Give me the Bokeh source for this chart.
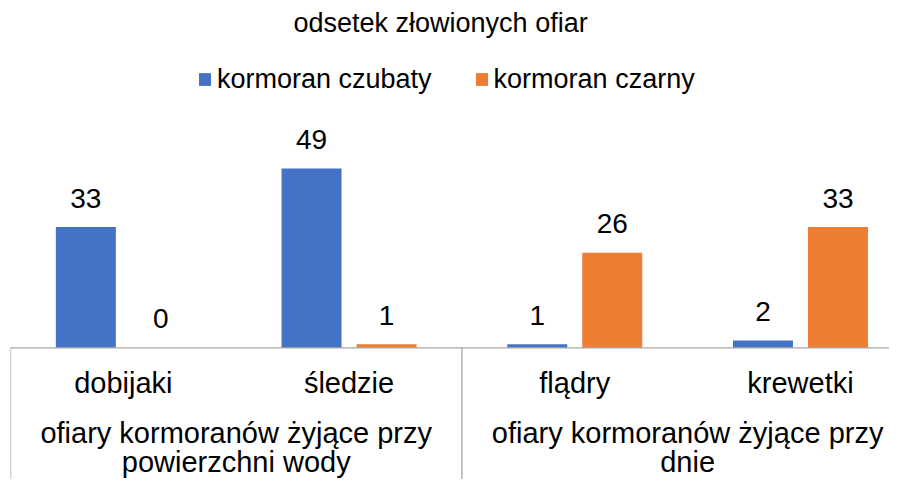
from bokeh.plotting import figure
from bokeh.models import Range1d, Legend, LegendItem, ColumnDataSource
from bokeh.core.properties import value
from bokeh.embed import file_html
from bokeh.resources import INLINE

# ---- data ----
categories = ["dobijaki", "śledzie", "flądry", "krewetki"]
groups = ["ofiary kormoranów żyjące przy\npowierzchni wody",
          "ofiary kormoranów żyjące przy\ndnie"]
group_sizes = [2, 2]
series_names = ["kormoran czubaty", "kormoran czarny"]
czubaty = [33, 49, 1, 2]
czarny = [0, 1, 26, 33]
title_text = "odsetek złowionych ofiar"

# ---- layout constants ----
FONT = "Liberation Sans"
BLUE = "#4472C4"
ORANGE = "#ED7D31"
AXIS = "#A6A6A6"
W, H = 889, 479
FRAME_LEFT = 10
TITLE_H = 41            # approx height of title panel
CAT_PX = 225.7          # pixels per category
PX_PER_UNIT = 3.667     # pixels per value unit
BASE_FROM_TOP = 347     # baseline distance from figure top
frame_w = W - FRAME_LEFT
frame_h = H - TITLE_H
base_in_frame = BASE_FROM_TOP - TITLE_H

x_end = frame_w / CAT_PX
y_end = base_in_frame / PX_PER_UNIT
y_start = -(frame_h - base_in_frame) / PX_PER_UNIT

bar_w = 60 / CAT_PX
dodge = 37.5 / CAT_PX

centers = [i + 0.5 for i in range(len(categories))]

p = figure(width=W, height=H, output_backend="svg", toolbar_location=None,
           x_range=Range1d(0, x_end), y_range=Range1d(y_start, y_end),
           x_axis_type=None, y_axis_type=None,
           min_border_left=FRAME_LEFT, min_border_right=0,
           min_border_top=0, min_border_bottom=0,
           outline_line_color=None, background_fill_color="white",
           border_fill_color="white")
p.xgrid.visible = False
p.ygrid.visible = False

p.title.text = title_text
p.title.align = "left"
p.title.offset = 283
p.title.text_font = FONT
p.title.text_font_size = "27px"
p.title.text_font_style = "normal"
p.title.text_color = "#000000"
p.title.standoff = 10

src = ColumnDataSource(dict(
    xb=[c - dodge for c in centers], xo=[c + dodge for c in centers],
    cz=czubaty, cr=czarny,
    czl=[str(v) for v in czubaty], crl=[str(v) for v in czarny]))

r1 = p.vbar(x="xb", top="cz", bottom=0, width=bar_w, source=src,
            fill_color=BLUE, line_color=None)
r2 = p.vbar(x="xo", top="cr", bottom=0, width=bar_w, source=src,
            fill_color=ORANGE, line_color=None)

for xcol, ycol, lcol in (("xb", "cz", "czl"), ("xo", "cr", "crl")):
    p.text(x=xcol, y=ycol, text=lcol, source=src, y_offset=-29,
           text_align="center", text_baseline="alphabetic",
           text_font=value(FONT), text_font_size="28px", text_color="#000000")

# axis line and group separators
n = len(categories)
p.segment(x0=[0], y0=[0], x1=[n], y1=[0], line_color=AXIS, line_width=1.3)
bounds = [0]
for s in group_sizes:
    bounds.append(bounds[-1] + s)
p.segment(x0=bounds, y0=[0] * len(bounds), x1=bounds, y1=[y_start] * len(bounds),
          line_color=AXIS, line_width=1.3)

# category labels
p.text(x=centers, y=[0] * n, text=categories, y_offset=35,
       text_align="center", text_baseline="alphabetic",
       text_font=value(FONT), text_font_size="29px", text_color="#000000")

# group labels (two lines)
gcenters = [(bounds[i] + bounds[i + 1]) / 2 for i in range(len(groups))]
for li, off in enumerate((85, 114)):
    lines = [g.split("\n")[li] if len(g.split("\n")) > li else "" for g in groups]
    p.text(x=gcenters, y=[0] * len(groups), text=lines, y_offset=off,
           text_align="center", text_baseline="alphabetic",
           text_font=value(FONT), text_font_size="29px", text_color="#000000")

legend = Legend(items=[LegendItem(label=series_names[0], renderers=[r1]),
                       LegendItem(label=series_names[1], renderers=[r2])],
                orientation="horizontal", location=(187, 384),
                glyph_width=15, glyph_height=16, label_standoff=5, spacing=42,
                padding=0, margin=0, border_line_color=None,
                background_fill_alpha=0,
                label_text_font=FONT, label_text_font_size="27px",
                label_text_color="#000000", label_height=32)
p.add_layout(legend)

open("out.html", "w").write(file_html(p, INLINE))
